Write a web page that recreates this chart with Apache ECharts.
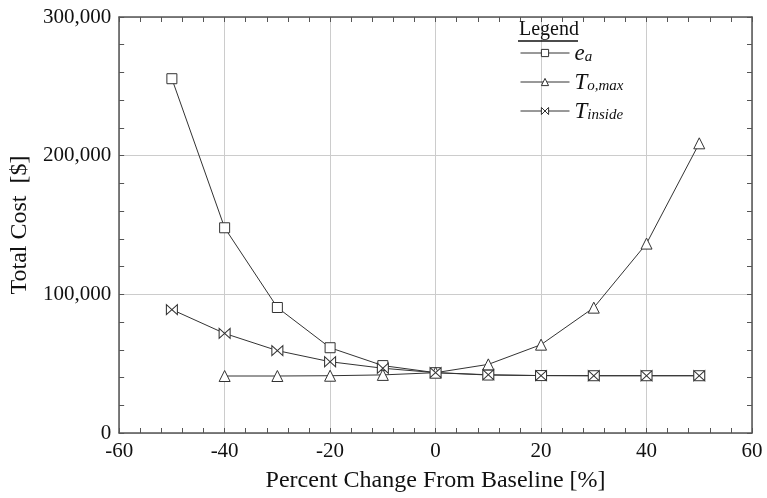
<!DOCTYPE html>
<html><head><meta charset="utf-8">
<script src="https://cdn.jsdelivr.net/npm/echarts@6/dist/echarts.min.js"></script>
<style>html,body{margin:0;padding:0;background:#fff}#c{width:767px;height:498px}</style>
</head><body><div id="c"></div>
<script>
const pctChange = [-50, -40, -30, -20, -10, 0, 10, 20, 30, 40, 50];
const eA      = [255500, 148000, 90500, 61500, 48600, 43500, 41800, 41400, 41300, 41300, 41300];
const tOMax   = [null, 41100, 41100, 41300, 41900, 43500, 49500, 63700, 90400, 136600, 208900];
const tInside = [89000, 71800, 59400, 51400, 46700, 43500, 42000, 41400, 41300, 41300, 41300];
const xTicks = [-60, -40, -20, 0, 20, 40, 60];
const yTicks = [0, 100000, 200000, 300000];

const FONT = 'Liberation Serif';
const LC = '#333';
const pairs = a => pctChange.map((x, i) => [x, a[i]]).filter(p => p[1] !== null);
const bowtie = 'path://M0,0 L0,10 L10,0 L10,10 Z';

const chart = echarts.init(document.getElementById('c'));
const axisCommon = {
  type: 'value',
  axisLine: { show: true, onZero: false, lineStyle: { color: '#555', width: 1.5 } },
  axisTick: { show: true, inside: true, length: 5, lineStyle: { color: '#555' } },
  minorTick: { show: true, splitNumber: 5, length: 5, lineStyle: { color: '#555' } },
};
const series = [
  { name: 'ea', data: pairs(eA), symbol: 'rect', symbolSize: 10 },
  { name: 'To', data: pairs(tOMax), symbol: 'triangle', symbolSize: 11 },
  { name: 'Ti', data: pairs(tInside), symbol: bowtie, symbolSize: [11, 10] },
].map(s => Object.assign({
  type: 'line', xAxisIndex: 0, yAxisIndex: 0,
  lineStyle: { color: LC, width: 1 },
  itemStyle: { color: '#fff', borderColor: LC, borderWidth: 1 },
  showSymbol: true, animation: false, z: 3
}, s));

chart.setOption({
  animation: false,
  backgroundColor: '#fff',
  grid: { left: 118, right: 15, top: 17, bottom: 63 },
  xAxis: [
    Object.assign({}, axisCommon, {
      position: 'bottom', min: xTicks[0], max: xTicks[xTicks.length - 1], interval: 20,
      axisLabel: { fontFamily: FONT, fontSize: 21, color: '#111', margin: 8 },
      splitLine: { show: true, lineStyle: { color: '#ccc', width: 1 } },
      name: 'Percent Change From Baseline [%]', nameLocation: 'middle', nameGap: 36,
      nameTextStyle: { fontFamily: FONT, fontSize: 24, color: '#111' }
    }),
    Object.assign({}, axisCommon, {
      position: 'top', min: xTicks[0], max: xTicks[xTicks.length - 1], interval: 20,
      axisLabel: { show: false }, splitLine: { show: false }
    })
  ],
  yAxis: [
    Object.assign({}, axisCommon, {
      position: 'left', min: yTicks[0], max: yTicks[yTicks.length - 1], interval: 100000,
      axisLabel: { fontFamily: FONT, fontSize: 21, color: '#111', margin: 8,
        formatter: v => v.toLocaleString('en-US') },
      splitLine: { show: true, lineStyle: { color: '#ccc', width: 1 } },
      name: 'Total Cost  [$]', nameLocation: 'middle', nameGap: 86, nameRotate: 90,
      nameTextStyle: { fontFamily: FONT, fontSize: 24, color: '#111' }
    }),
    Object.assign({}, axisCommon, {
      position: 'right', min: yTicks[0], max: yTicks[yTicks.length - 1], interval: 100000,
      axisLabel: { show: false }, splitLine: { show: false }
    })
  ],
  legend: {
    orient: 'vertical', left: 520, top: 42, padding: 0,
    itemWidth: 49, itemHeight: 9, itemGap: 6,
    backgroundColor: 'transparent',
    data: ['ea', 'To', 'Ti'],
    itemStyle: { color: '#fff', borderColor: LC, borderWidth: 1 },
    lineStyle: { color: LC, width: 1 },
    formatter: n => n === 'ea' ? '{m|e}{s|a}' : n === 'To' ? '{m|T}{s|o,max}' : '{m|T}{s|inside}',
    textStyle: {
      color: '#111',
      rich: {
        m: { fontFamily: FONT, fontStyle: 'italic', fontSize: 23, color: '#111', verticalAlign: 'bottom', lineHeight: 24 },
        s: { fontFamily: FONT, fontStyle: 'italic', fontSize: 15, color: '#111', verticalAlign: 'bottom', lineHeight: 16, padding: [8, 0, 0, 0] }
      }
    }
  },
  graphic: [
    { type: 'text', left: 519, top: 20, z: 10,
      style: { text: 'Legend', font: '20px "Liberation Serif"', fill: '#111' } },
    { type: 'line', z: 10, shape: { x1: 518, y1: 41, x2: 578, y2: 41 },
      style: { stroke: '#111', lineWidth: 1.5 } }
  ],
  series: series
});
</script></body></html>
